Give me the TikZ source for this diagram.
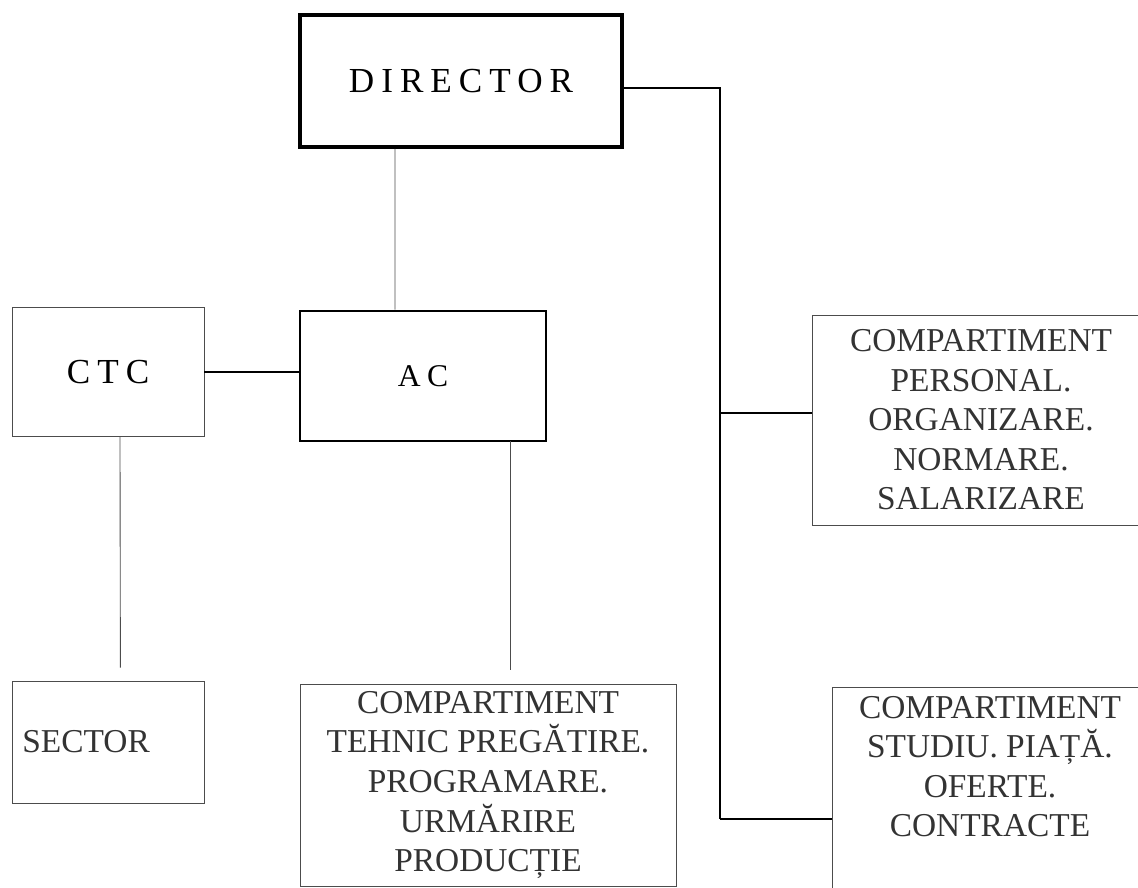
\documentclass[tikz,border=0pt]{standalone}
\usepackage{fontspec}
\setmainfont{Liberation Serif}
\newfontfamily\spacedfont[LetterSpace=20]{Liberation Serif}
\usetikzlibrary{positioning,calc}

\begin{document}
\begin{tikzpicture}[x=0.02cm,y=-0.02cm,
  boss/.style={draw,line width=2.2pt,minimum width=6.44cm,minimum height=2.64cm,
               font=\spacedfont\fontsize{20}{24}\selectfont},
  unit/.style={draw,line width=1.5pt,minimum width=4.92cm,minimum height=2.6cm,
               font=\spacedfont\fontsize{18}{22}\selectfont},
  thinunit/.style={draw=black!70,line width=0.5pt,minimum width=3.84cm,minimum height=2.58cm,
               font=\spacedfont\fontsize{20}{22}\selectfont},
  dept/.style={draw=black!70,line width=0.5pt,align=center,text=black!80,inner ysep=1pt,
               font=\fontsize{19}{22.5}\selectfont},
  link/.style={line width=0.9pt},
  vline/.style={draw=black!70,line width=0.5pt}
]
\useasboundingbox (0,0) rectangle (1138,888);
\clip (0,0) rectangle (1138,888);

% Row 1: director
\node[boss] (dir) at (461,81) {DIRECTOR};
% Row 2: CTC, AC, personal
\node[unit]     (ac)  at (423,376) {AC};
\node[thinunit] (ctc) at (108,372) {CTC};
\node[dept,minimum width=6.76cm,minimum height=4.2cm] (pers) at (981,420)
  {COMPARTIMENT\\PERSONAL.\\ORGANIZARE.\\NORMARE.\\SALARIZARE};
% Row 3: sector, tehnic, studiu
\node[dept,anchor=west,align=left,minimum height=2.44cm,text width=3.44cm,inner xsep=0.2cm]
  (sector) at (12,742) {SECTOR};
\node[dept,minimum width=7.52cm,minimum height=4.04cm] (tehnic) at (488,785)
  {COMPARTIMENT\\TEHNIC PREGĂTIRE.\\PROGRAMARE.\\URMĂRIRE\\PRODUCȚIE};
\node[dept,anchor=north west,minimum width=6.4cm,minimum height=4.4cm] (studiu) at (832,687) {};
\node[dept,draw=none,anchor=north] (studiutxt) at (990,694)
  {COMPARTIMENT\\STUDIU. PIAȚĂ.\\OFERTE.\\CONTRACTE};

% bus on the right of the director
\coordinate (bustop) at (720,88);
\coordinate (busbot) at (720,819);
\draw[link] (dir.east |- bustop) -- (bustop) -- (busbot);
\draw[link] ([yshift=0.14cm]pers.west) -- ([yshift=0.14cm]pers.west -| busbot);
\draw[link] (busbot) -- (busbot -| studiu.west);
% director -> AC, CTC -- AC
\draw[vline] ([xshift=-1.32cm]dir.south) -- ([xshift=-0.56cm]ac.north);
\draw[link] (ctc.east) -- (ctc.east -| ac.west);
% down to row 3 (lines stop short of the boxes)
\draw[vline,shorten >=0.26cm] ([xshift=0.24cm]ctc.south) -- ([xshift=0.24cm]sector.north);
\coordinate (acfoot) at (510,441);
\draw[vline,shorten >=0.28cm] (acfoot) -- (acfoot |- tehnic.north);
\end{tikzpicture}
\end{document}
